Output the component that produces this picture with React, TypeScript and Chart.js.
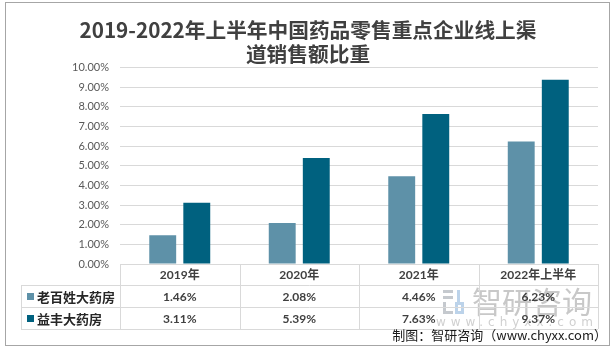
import React, { useEffect, useRef } from 'react';
import { Chart, registerables } from 'chart.js';

Chart.register(...registerables);

const categories = ['2019年', '2020年', '2021年', '2022年上半年'];
const seriesNames = ['老百姓大药房', '益丰大药房'];
const laobaixing = [1.46, 2.08, 4.46, 6.23];
const yifeng = [3.11, 5.39, 7.63, 9.37];
const seriesColors = ['#5e91a8', '#00617f'];
const titleLines = ['2019-2022年上半年中国药品零售重点企业线上渠', '道销售额比重'];
const sourceText = '制图：智研咨询（www.chyxx.com）';
const watermarkText = '智研咨询';
const watermarkUrl = 'www.chyxx.com';

const seriesValues = [laobaixing, yifeng];

const tablePlugin = {
  id: 'dataTable',
  beforeDraw(chart: any) {
    const ctx = chart.ctx;
    ctx.save();
    ctx.fillStyle = '#ffffff';
    ctx.fillRect(0, 0, chart.width, chart.height);
    ctx.restore();
  },
  afterDraw(chart: any) {
    const ctx = chart.ctx;
    const area = chart.chartArea;
    const xs = chart.scales.x;
    const n = categories.length;
    const colW = (area.right - area.left) / n;
    const rowH = 22;
    const headTop = area.bottom;
    const row1 = headTop + 21;
    const row2 = row1 + rowH;
    const row3 = row2 + rowH;
    const tableLeft = 21;

    ctx.save();
    // watermark
    ctx.fillStyle = '#c5c9ce';
    ctx.fillRect(443, 290, 10, 3);
    ctx.fillRect(443, 296, 10, 3);
    ctx.fillRect(443, 302, 3, 10);
    ctx.fillRect(443, 311, 10, 3);
    ctx.fillStyle = '#bcd3ea';
    ctx.fillRect(457, 290, 3, 14);
    ctx.fillRect(455, 302, 9, 3);
    ctx.fillRect(455, 302, 3, 12);
    ctx.fillRect(455, 311, 9, 3);
    ctx.fillRect(461, 302, 3, 12);
    ctx.fillStyle = '#c8c8c8';
    ctx.font = '30px "Noto Sans CJK SC"';
    ctx.textAlign = 'left';
    ctx.textBaseline = 'middle';
    ctx.fillText(watermarkText, 472, 302);
    ctx.fillStyle = '#d0d0d0';
    ctx.font = '12px "DejaVu Sans"';
    (ctx as any).letterSpacing = '5px';
    ctx.textAlign = 'right';
    ctx.fillText(watermarkUrl, 598, 323);
    (ctx as any).letterSpacing = '0px';

    // table lines
    ctx.strokeStyle = '#d9d9d9';
    ctx.lineWidth = 1;
    const hline = (x1: number, x2: number, y: number) => {
      ctx.beginPath();
      ctx.moveTo(x1, Math.round(y) + 0.5);
      ctx.lineTo(x2, Math.round(y) + 0.5);
      ctx.stroke();
    };
    const vline = (x: number, y1: number, y2: number) => {
      ctx.beginPath();
      ctx.moveTo(Math.round(x) + 0.5, y1);
      ctx.lineTo(Math.round(x) + 0.5, y2);
      ctx.stroke();
    };
    hline(tableLeft, area.right, row1);
    hline(tableLeft, area.right, row2);
    hline(tableLeft, area.right, row3);
    vline(tableLeft, row1, row3);
    for (let i = 0; i <= n; i++) {
      vline(area.left + i * colW, headTop, row3);
    }

    // series labels
    const rowsMid = [(row1 + row2) / 2, (row2 + row3) / 2];
    for (let s = 0; s < seriesNames.length; s++) {
      ctx.fillStyle = seriesColors[s];
      ctx.fillRect(27, Math.round(rowsMid[s]) - 3, 7, 7);
      ctx.fillStyle = '#262626';
      ctx.font = 'bold 13px "Noto Sans CJK SC"';
      ctx.textAlign = 'left';
      ctx.textBaseline = 'middle';
      ctx.fillText(seriesNames[s], 37, rowsMid[s] + 1);
      ctx.font = 'bold 12px Lato, "Noto Sans CJK SC"';
      ctx.textAlign = 'center';
      ctx.fillStyle = '#404040';
      for (let i = 0; i < n; i++) {
        const x = xs.getPixelForValue(i);
        ctx.fillText(seriesValues[s][i].toFixed(2) + '%', x, rowsMid[s] + 1);
      }
    }

    // source
    ctx.fillStyle = '#1a1a1a';
    ctx.font = '13px "Noto Sans CJK SC"';
    ctx.textAlign = 'right';
    ctx.textBaseline = 'middle';
    ctx.fillText(sourceText, 607, 335);

    // border
    ctx.strokeStyle = '#a6a6a6';
    ctx.strokeRect(5.5, 2.5, 604, 343);
    ctx.restore();
  },
};

export default function App() {
  const ref = useRef<HTMLCanvasElement | null>(null);
  useEffect(() => {
    if (!ref.current) return;
    const chart = new Chart(ref.current, {
      type: 'bar',
      data: {
        labels: categories,
        datasets: seriesNames.map((name, s) => ({
          label: name,
          data: seriesValues[s],
          backgroundColor: seriesColors[s],
          borderWidth: 0,
          categoryPercentage: 0.57,
          barPercentage: 0.79,
        })),
      },
      options: {
        responsive: false,
        animation: false,
        devicePixelRatio: 1,
        layout: { padding: { left: 18, right: 17, top: 0, bottom: 0 } },
        plugins: {
          legend: { display: false },
          tooltip: { enabled: false },
          title: {
            display: true,
            text: titleLines,
            color: '#404040',
            font: { size: 20.7, weight: 'bold', family: '"Noto Sans CJK SC", sans-serif', lineHeight: 1.12 },
            padding: { top: 19, bottom: 2 },
          },
        },
        scales: {
          x: {
            grid: { display: false, drawTicks: false, tickLength: 0 },
            border: { display: false },
            ticks: {
              color: '#404040',
              font: { size: 12, weight: 'bold', family: 'Lato, "Noto Sans CJK SC"' },
              padding: 4,
              maxRotation: 0,
              autoSkip: false,
            },
            afterFit: (scale: any) => {
              scale.height = 87;
            },
          },
          y: {
            min: 0,
            max: 10,
            grid: { color: '#d9d9d9', drawTicks: false, tickLength: 0 },
            border: { display: false },
            ticks: {
              stepSize: 1,
              color: '#595959',
              font: { size: 11, family: 'Lato' },
              padding: 11,
              callback: (v: any) => Number(v).toFixed(2) + '%',
            },
            afterFit: (scale: any) => {
              scale.width = 102;
            },
          },
        },
      },
      plugins: [tablePlugin],
    });
    return () => chart.destroy();
  }, []);
  return (
    <div style={{ position: 'absolute', left: 0, top: 0, width: 615, height: 351 }}>
      <canvas ref={ref} width={615} height={351} style={{ width: 615, height: 351, display: 'block' }} />
    </div>
  );
}
